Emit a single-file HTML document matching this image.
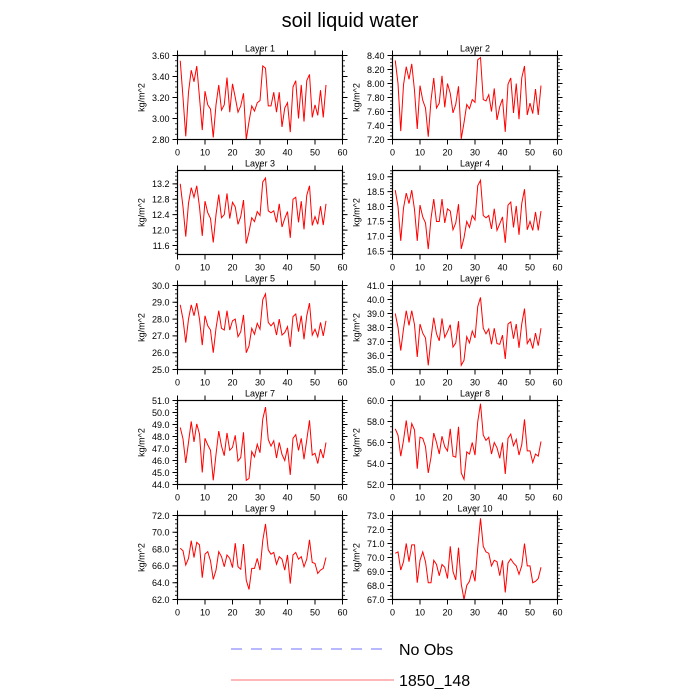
<!DOCTYPE html>
<html><head><meta charset="utf-8"><style>
html,body{margin:0;padding:0;background:#fff;}
svg{display:block;font-family:"Liberation Sans",sans-serif;}
</style></head><body>
<svg id="chart" width="700" height="700" viewBox="0 0 700 700" xmlns="http://www.w3.org/2000/svg">
<text x="350" y="27" text-anchor="middle" font-size="20">soil liquid water</text>
<g>
<line x1="231" y1="649" x2="388" y2="649" stroke="#7070ff" stroke-width="1" stroke-dasharray="11,9"/>
<text x="399" y="655" font-size="16">No Obs</text>
<line x1="231" y1="680" x2="394" y2="680" stroke="#ff7070" stroke-width="1"/>
<text x="399" y="686" font-size="16">1850_148</text>
</g>
</svg>
<script>
const xTicks=[0,10,20,30,40,50,60];
const layerNames=["Layer 1","Layer 2","Layer 3","Layer 4","Layer 5","Layer 6","Layer 7","Layer 8","Layer 9","Layer 10"];
const yMin=[2.8,7.2,11.366,16.39,25,35,44,52,62,67];
const yMax=[3.6,8.4,13.546,19.21,30,41,51,60,72,73];
const yStep=[0.2,0.2,0.4,0.5,1,1,1,2,2,1];
const yMinorStep=[0.05,0.05,0.1,0.1,0.25,0.25,0.25,0.5,0.5,0.25];
const yDecimals=[2,2,1,1,1,1,1,1,1,1];
const layer1=[3.55,3.2,2.83,3.25,3.46,3.35,3.5,3.2,2.89,3.26,3.13,3.09,2.82,3.13,3.32,3.08,3.13,3.39,3.06,3.33,3.2,3.06,3.12,3.24,2.8,2.97,3.12,3.07,3.15,3.17,3.5,3.48,3.12,3.12,3.25,3.06,3.25,2.92,3.1,3.15,2.87,3.3,3.36,3.0,3.32,2.97,3.36,3.42,3.01,3.13,3.03,3.27,3.01,3.32];
const layer2=[8.33,8.0,7.32,7.98,8.24,8.06,8.28,7.9,7.35,7.97,7.76,7.65,7.24,7.76,8.08,7.65,7.72,8.11,7.66,8.0,7.86,7.58,7.7,7.96,7.21,7.44,7.7,7.64,7.77,7.73,8.34,8.37,7.77,7.75,7.84,7.6,7.93,7.48,7.67,7.78,7.31,7.99,8.08,7.58,8.0,7.49,8.08,8.25,7.55,7.72,7.57,7.92,7.55,7.97];
const layer3=[13.2,12.6,11.83,12.7,13.1,12.85,13.15,12.6,11.85,12.75,12.45,12.3,11.68,12.4,12.92,12.32,12.4,12.95,12.3,12.72,12.6,12.15,12.35,12.78,11.65,11.95,12.32,12.22,12.48,12.38,13.25,13.35,12.5,12.45,12.5,12.2,12.68,12.08,12.3,12.48,11.8,12.8,12.85,12.2,12.75,12.02,12.9,13.15,12.12,12.35,12.15,12.62,12.13,12.68];
const layer4=[18.55,18.0,16.85,17.95,18.45,18.1,18.55,17.9,16.85,18.05,17.65,17.45,16.57,17.6,18.25,17.5,17.5,18.25,17.45,17.92,17.85,17.22,17.45,18.08,16.58,16.95,17.5,17.3,17.7,17.55,18.7,18.88,17.7,17.62,17.7,17.25,17.93,17.2,17.42,17.65,16.78,18.05,18.15,17.3,18.02,17.05,18.1,18.58,17.22,17.5,17.2,17.82,17.2,17.85];
const layer5=[28.85,28.0,26.6,28.0,28.85,28.2,28.95,28.0,26.45,28.2,27.6,27.35,26.0,27.45,28.5,27.45,27.35,28.5,27.35,27.9,28.0,26.95,27.25,28.25,26.0,26.4,27.45,27.1,27.75,27.4,29.15,29.5,27.8,27.6,27.8,27.05,28.0,27.05,27.2,27.55,26.35,28.15,28.3,27.25,28.2,26.8,28.2,28.95,27.05,27.4,26.95,27.8,27.0,27.9];
const layer6=[39.0,38.0,36.35,37.9,39.2,38.15,39.2,38.2,35.9,38.25,37.6,37.25,35.3,37.2,38.7,37.55,37.05,38.65,37.3,37.7,38.2,36.6,36.9,38.45,35.3,35.65,37.35,36.9,37.75,37.25,39.5,40.15,37.95,37.55,37.9,36.8,37.95,36.85,36.8,37.45,35.75,38.25,38.4,37.2,38.25,36.55,38.25,39.35,36.85,37.2,36.5,37.6,36.7,37.95];
const layer7=[48.75,47.8,45.8,47.5,49.25,47.55,49.05,48.2,45.0,47.85,47.3,46.85,44.35,46.5,48.45,47.2,46.4,48.3,46.85,47.1,48.1,45.95,46.25,48.35,44.35,44.5,46.75,46.3,47.35,46.65,49.45,50.45,47.75,47.2,47.65,46.2,47.5,46.5,46.0,47.05,44.8,47.85,48.15,46.85,47.85,46.1,47.7,49.35,46.45,46.6,45.75,46.95,46.2,47.5];
const layer8=[57.3,56.7,54.7,56.2,58.1,56.0,57.8,57.2,53.5,56.5,56.4,55.6,53.1,54.6,56.9,56.0,54.9,56.6,55.6,55.2,57.3,54.7,54.6,57.5,53.1,52.5,55.1,54.9,56.0,54.8,58.0,59.7,56.7,56.2,56.5,54.9,56.0,55.5,54.5,56.0,53.0,56.4,56.8,55.7,56.3,54.8,55.8,58.2,55.2,55.2,54.1,54.9,54.7,56.1];
const layer9=[68.1,67.8,66.1,66.9,69.0,67.0,68.8,68.5,64.6,67.4,67.7,66.6,64.4,65.5,67.7,67.1,65.9,67.3,66.9,65.8,68.7,65.9,65.6,68.6,64.3,63.2,65.7,65.7,66.9,65.5,69.0,71.0,67.9,67.4,67.6,66.2,67.1,66.8,65.5,67.3,63.9,67.3,67.6,66.8,67.1,65.9,66.8,69.1,66.4,66.3,65.1,65.5,65.7,67.0];
const layer10=[70.3,70.4,69.1,69.7,71.0,69.7,70.9,70.9,68.2,69.8,70.4,69.7,68.2,68.2,69.8,69.5,68.7,69.5,69.3,68.5,70.8,69.0,68.4,70.7,68.1,67.0,68.0,68.3,69.1,68.3,70.7,72.8,70.8,70.4,70.3,69.4,69.8,69.7,68.7,69.8,67.5,69.6,69.9,69.6,69.4,68.8,69.4,71.0,69.4,69.4,68.2,68.3,68.5,69.3];
const layers=[layer1,layer2,layer3,layer4,layer5,layer6,layer7,layer8,layer9,layer10];

const NS="http://www.w3.org/2000/svg";
const svg=document.getElementById('chart');
function mk(tag,attrs,parent){const e=document.createElementNS(NS,tag);for(const k in attrs)e.setAttribute(k,attrs[k]);parent.appendChild(e);return e;}
const W=165,H=84,colX=[177.5,392.5],rowY=[55.5,170.5,285.5,400.5,515.5];
layers.forEach((data,i)=>{
  const L=colX[i%2],T=rowY[Math.floor(i/2)];
  const g=mk('g',{},svg);
  
  
  const xs=v=>L+(v-0)/(60-0)*W;
  const ys=v=>T+H-(v-yMin[i])/(yMax[i]-yMin[i])*H;
  const t=mk('text',{x:L+W/2,y:T-4,'text-anchor':'middle','font-size':9},g);
  
  
  t.textContent=layerNames[i];
  // x ticks
  xTicks.forEach(v=>{
    const x=xs(v);
    const tk=mk('path',{d:`M${x},${T+H}v5M${x},${T}v-5`,stroke:'#000','stroke-width':1},g);
    
    
    const lb=mk('text',{x:x,y:T+H+16,'text-anchor':'middle','font-size':9},g);
    
    
    lb.textContent=v;
  });
  // y minor
  const ms=yMinorStep[i];
  for(let v=Math.ceil(yMin[i]/ms-1e-6)*ms;v<=yMax[i]+1e-9;v+=ms){
    const y=ys(v);
    const mt=mk('path',{d:`M${L},${y}h-2.5M${L+W},${y}h2.5`,stroke:'#000','stroke-width':0.8},g);
    
    
  }
  const st=yStep[i];
  for(let v=Math.ceil(yMin[i]/st-1e-6)*st;v<=yMax[i]+1e-9;v+=st){
    const y=ys(v);
    const tk=mk('path',{d:`M${L},${y}h-5M${L+W},${y}h5`,stroke:'#000','stroke-width':1},g);
    
    
    const lb=mk('text',{x:L-8,y:y+3.3,'text-anchor':'end','font-size':9},g);
    
    
    lb.textContent=v.toFixed(yDecimals[i]);
  }
  const yl=mk('text',{x:0,y:0,'text-anchor':'middle','font-size':9,transform:`translate(${L-33},${T+H/2}) rotate(-90)`},g);
  
  
  yl.textContent='kg/m^2';
  const d=data.map((v,k)=>(k?'L':'M')+xs(k+1).toFixed(2)+','+ys(v).toFixed(2)).join('');
  const ln=mk('path',{d:d,fill:'none',stroke:'#ff0000','stroke-width':1},g);
  
  
  const bx=mk('rect',{x:L,y:T,width:W,height:H,fill:'none',stroke:'#000','stroke-width':1.2},g);
  
  
});
</script>
</body></html>
